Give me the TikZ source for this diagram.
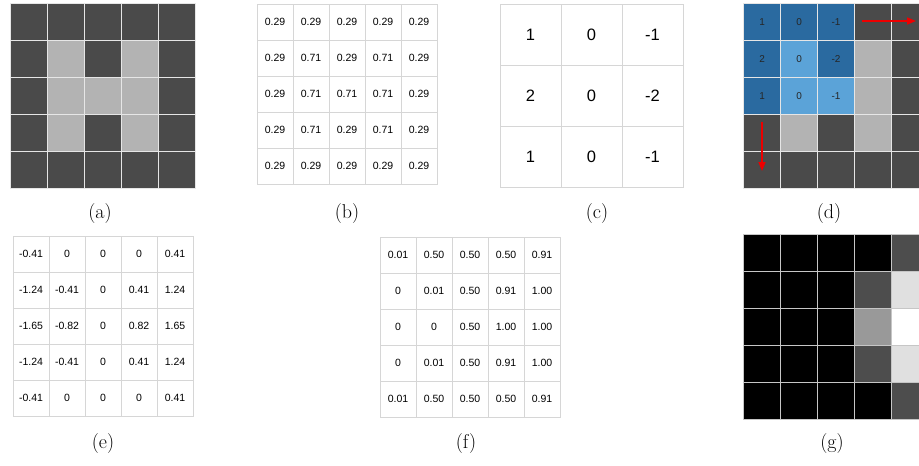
\documentclass[tikz,border=0pt]{standalone}
\usepackage{fontspec}
\newfontfamily\arialf{Liberation Sans}
\usetikzlibrary{arrows.meta}
\definecolor{dk}{HTML}{4A4A4A}
\definecolor{lt}{HTML}{B3B3B3}
\definecolor{db}{HTML}{2A6AA0}
\definecolor{lb}{HTML}{5BA3D8}
\definecolor{gl}{HTML}{D6D6D6}
\definecolor{gridw}{HTML}{E6E6E6}
\definecolor{kk}{HTML}{000000}
\definecolor{ga}{HTML}{4D4D4D}
\definecolor{gb}{HTML}{999999}
\definecolor{gc}{HTML}{E0E0E0}
\definecolor{wh}{HTML}{FFFFFF}
\definecolor{arrred}{HTML}{EE0000}
\tikzset{
  pix/.style={draw=gridw, line width=1.2pt, minimum size=37pt, inner sep=0pt, anchor=north west},
  gpix/.style={draw=gray!45, line width=1.2pt, minimum size=37pt, inner sep=0pt, anchor=north west},
  numcell/.style={draw=gl, line width=1pt, minimum width=36pt, minimum height=36pt, inner sep=0pt, anchor=north west,
    font=\arialf\fontsize{10.5}{12}\selectfont},
  bigcell/.style={draw=gl, line width=1pt, minimum size=61pt, inner sep=0pt, anchor=north west,
    font=\arialf\fontsize{16.5}{19}\selectfont},
  kern/.style={draw=gridw, line width=1.2pt, minimum size=37pt, inner sep=0pt, anchor=north west,
    font=\arialf\fontsize{10}{12}\selectfont, text=black!85},
  lab/.style={font=\fontsize{20}{24}\selectfont},
  redarrow/.style={draw=arrred, line width=1.6pt, -{Triangle[length=9pt,width=7pt]}}
}
\begin{document}
\begin{tikzpicture}[x=1pt,y=-1pt]
\useasboundingbox (0,0) rectangle (919,466);
\fill[white] (0,0) rectangle (919,466);

% (a)
\foreach \r/\vals in {0/{dk,dk,dk,dk,dk},1/{dk,lt,dk,lt,dk},2/{dk,lt,lt,lt,dk},3/{dk,lt,dk,lt,dk},4/{dk,dk,dk,dk,dk}}{
  \foreach \v [count=\c from 0] in \vals {
    \node[pix, fill=\v] (a-\r-\c) at (10+37*\c, 3+37*\r) {};
  }
}
\node[lab] (la) at (100,214) {(a)};

% (b)
\foreach \r/\vals in {0/{0.29,0.29,0.29,0.29,0.29},1/{0.29,0.71,0.29,0.71,0.29},2/{0.29,0.71,0.71,0.71,0.29},3/{0.29,0.71,0.29,0.71,0.29},4/{0.29,0.29,0.29,0.29,0.29}}{
  \foreach \v [count=\c from 0] in \vals {
    \node[numcell] (b-\r-\c) at (256.5+36*\c, 3.5+36*\r) {\v};
  }
}
\node[lab] (lb) at (347,214) {(b)};

% (c)
\foreach \r/\vals in {0/{1,0,-1},1/{2,0,-2},2/{1,0,-1}}{
  \foreach \v [count=\c from 0] in \vals {
    \node[bigcell] (c-\r-\c) at (499.5+61*\c, 3.5+61*\r) {\v};
  }
}
\node[lab] (lc) at (597,214) {(c)};

% (d)
\foreach \r/\vals in {0/{dk,dk,dk,dk,dk},1/{dk,lt,dk,lt,dk},2/{dk,lt,lt,lt,dk},3/{dk,lt,dk,lt,dk},4/{dk,dk,dk,dk,dk}}{
  \foreach \v [count=\c from 0] in \vals {
    \node[pix, fill=\v] (d-\r-\c) at (743+37*\c, 3+37*\r) {};
  }
}
\foreach \r/\vals in {0/{db/1,db/0,db/-1},1/{db/2,lb/0,db/-2},2/{db/1,lb/0,lb/-1}}{
  \foreach \f/\t [count=\c from 0] in \vals {
    \node[kern, fill=\f] (k-\r-\c) at (743+37*\c, 3+37*\r) {\t};
  }
}
\coordinate (hs) at (862,21);
\coordinate (he) at (916,21);
\coordinate (vs) at (762,122);
\coordinate (ve) at (762,171);
\draw[redarrow] (hs) -- (he);
\draw[redarrow] (vs) -- (ve);
\node[lab] (ld) at (829,214) {(d)};

% (e)
\foreach \r/\vals in {0/{-0.41,0,0,0,0.41},1/{-1.24,-0.41,0,0.41,1.24},2/{-1.65,-0.82,0,0.82,1.65},3/{-1.24,-0.41,0,0.41,1.24},4/{-0.41,0,0,0,0.41}}{
  \foreach \v [count=\c from 0] in \vals {
    \node[numcell] (e-\r-\c) at (12.5+36*\c, 235.5+36*\r) {\v};
  }
}
\node[lab] (le) at (103,444) {(e)};

% (f)
\foreach \r/\vals in {0/{0.01,0.50,0.50,0.50,0.91},1/{0,0.01,0.50,0.91,1.00},2/{0,0,0.50,1.00,1.00},3/{0,0.01,0.50,0.91,1.00},4/{0.01,0.50,0.50,0.50,0.91}}{
  \foreach \v [count=\c from 0] in \vals {
    \node[numcell] (f-\r-\c) at (379.5+36*\c, 236.5+36*\r) {\v};
  }
}
\node[lab] (lf) at (466,444) {(f)};

% (g)
\foreach \r/\vals in {0/{kk,kk,kk,kk,ga},1/{kk,kk,kk,ga,gc},2/{kk,kk,kk,gb,wh},3/{kk,kk,kk,ga,gc},4/{kk,kk,kk,kk,ga}}{
  \foreach \v [count=\c from 0] in \vals {
    \node[gpix, fill=\v] (g-\r-\c) at (743+37*\c, 234+37*\r) {};
  }
}
\node[lab] (lg) at (832,444) {(g)};
\end{tikzpicture}
\end{document}
